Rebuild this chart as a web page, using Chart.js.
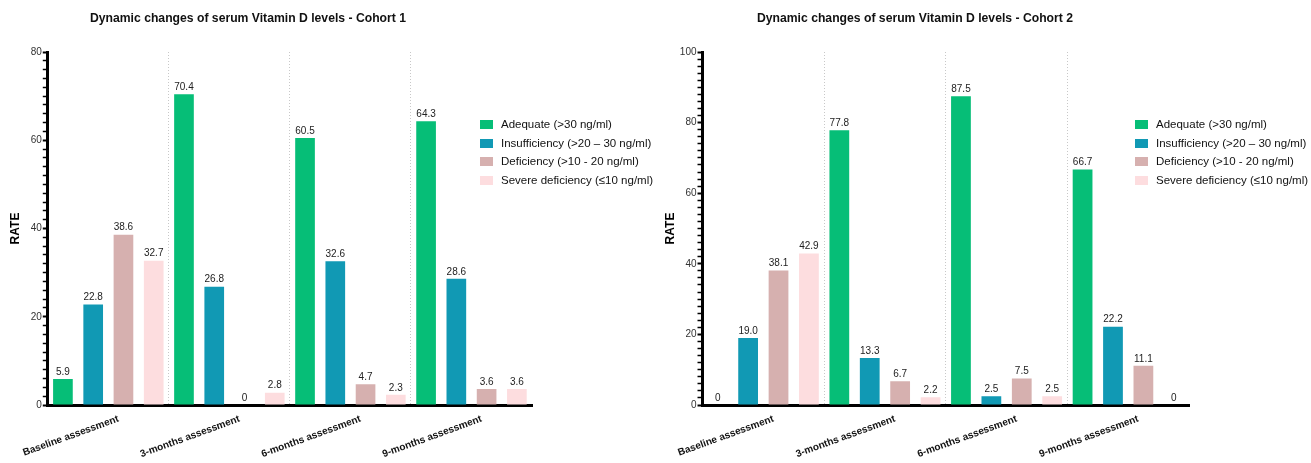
<!DOCTYPE html>
<html>
<head>
<meta charset="utf-8">
<script src="https://cdn.jsdelivr.net/npm/chart.js@4.4.1/dist/chart.umd.min.js"></script>
<style>
  html, body { margin: 0; padding: 0; background: #fff; }
  body { width: 1311px; height: 463px; position: relative; overflow: hidden;
         font-family: "Liberation Sans", Arial, sans-serif; }
  .panel { position: absolute; top: 0; height: 463px; }
  .panel canvas { position: absolute; left: 0; top: 0; }
  .title { position: absolute; top: 11px; font-weight: bold; font-size: 12.2px; color: #111;
           text-align: center; white-space: nowrap; }
  .legend { position: absolute; left: 480px; top: 115px; font-size: 11.5px; color: #111; }
  .legend div { height: 18.5px; line-height: 18.5px; white-space: nowrap; }
  .legend span { display: inline-block; width: 13px; height: 9px; margin-right: 8px; vertical-align: -1px; }
</style>
</head>
<body>
<div class="panel" id="panel1" style="left:0;width:655px">
  <canvas id="chart1" width="655" height="463"></canvas>
  <div class="title" style="left:0;width:496px">Dynamic changes of serum Vitamin D levels - Cohort 1</div>
  <div class="legend" id="legend1"></div>
</div>
<div class="panel" id="panel2" style="left:655px;width:656px">
  <canvas id="chart2" width="656" height="463"></canvas>
  <div class="title" style="left:0;width:520px">Dynamic changes of serum Vitamin D levels - Cohort 2</div>
  <div class="legend" id="legend2"></div>
</div>
<script>
// Categories and series
const assessments = ['Baseline assessment', '3-months assessment', '6-months assessment', '9-months assessment'];
const seriesNames = ['Adequate (>30 ng/ml)', 'Insufficiency (>20 – 30 ng/ml)', 'Deficiency (>10 - 20 ng/ml)', 'Severe deficiency (≤10 ng/ml)'];
const seriesColors = ['#06BE77', '#1199B4', '#D6B0AF', '#FDDDDF'];

// Cohort 1 values (%)
const cohort1Adequate = [5.9, 70.4, 60.5, 64.3];
const cohort1Insufficiency = [22.8, 26.8, 32.6, 28.6];
const cohort1Deficiency = [38.6, 0, 4.7, 3.6];
const cohort1Severe = [32.7, 2.8, 2.3, 3.6];

// Cohort 2 values (%)
const cohort2Adequate = [0, 77.8, 87.5, 66.7];
const cohort2Insufficiency = [19.0, 13.3, 2.5, 22.2];
const cohort2Deficiency = [38.1, 6.7, 7.5, 11.1];
const cohort2Severe = [42.9, 2.2, 2.5, 0];

const FONT = '"Liberation Sans", Arial, sans-serif';

// Draw value labels above each bar
const valueLabels = {
  id: 'valueLabels',
  afterDatasetsDraw(chart) {
    const ctx = chart.ctx;
    ctx.save();
    ctx.font = '10px ' + FONT;
    ctx.fillStyle = '#222';
    ctx.textAlign = 'center';
    ctx.textBaseline = 'bottom';
    chart.data.datasets.forEach((ds, i) => {
      chart.getDatasetMeta(i).data.forEach((bar, j) => {
        const v = ds.data[j];
        ctx.fillText(v === 0 ? '0' : v.toFixed(1), bar.x, bar.y - 2);
      });
    });
    ctx.restore();
  }
};

function buildLegend(id) {
  const el = document.getElementById(id);
  seriesNames.forEach((name, i) => {
    const row = document.createElement('div');
    const box = document.createElement('span');
    box.style.background = seriesColors[i];
    row.appendChild(box);
    row.appendChild(document.createTextNode(name));
    el.appendChild(row);
  });
}

function makeChart(canvasId, seriesData, yMax, padRight) {
  const ctx = document.getElementById(canvasId).getContext('2d');
  return new Chart(ctx, {
    type: 'bar',
    data: {
      labels: assessments,
      datasets: seriesData.map((values, i) => ({
        label: seriesNames[i],
        data: values,
        backgroundColor: seriesColors[i],
        categoryPercentage: 1.0,
        barPercentage: 0.65
      }))
    },
    plugins: [valueLabels],
    options: {
      responsive: false,
      animation: false,
      layout: { padding: { top: 52, right: padRight, left: 0, bottom: 0 } },
      plugins: {
        legend: { display: false },
        title: { display: false },
        tooltip: { enabled: false }
      },
      scales: {
        x: {
          grid: {
            drawTicks: false,
            // only the separators between groups, not the outer edges
            color: c => (c.type === 'tick' && c.index > 0) ? '#c8c8c8' : 'rgba(0,0,0,0)',
            lineWidth: 1
          },
          border: { color: '#000', width: 3, dash: [1, 2] },
          ticks: {
            font: { family: FONT, size: 10, weight: 'bold' },
            color: '#111',
            minRotation: 20,
            maxRotation: 20,
            padding: 8,
            labelOffset: 10
          },
          afterFit: s => { s.height = 58; }
        },
        y: {
          min: 0,
          max: yMax,
          grid: {
            drawOnChartArea: false,
            drawTicks: true,
            tickLength: 5,
            tickColor: '#000',
            tickWidth: c => (c.tick && c.tick.value % 20 === 0) ? 2 : 1.5
          },
          border: { color: '#000', width: 3 },
          ticks: {
            stepSize: 2,
            autoSkip: false,
            padding: 1,
            font: { family: FONT, size: 10 },
            color: '#333',
            callback: v => (v % 20 === 0 ? v : '')
          },
          title: {
            display: true,
            text: 'RATE',
            font: { family: FONT, size: 12, weight: 'bold' },
            color: '#000',
            padding: 3
          },
          afterFit: s => { s.width = 42; }
        }
      }
    }
  });
}

buildLegend('legend1');
buildLegend('legend2');
makeChart('chart1', [cohort1Adequate, cohort1Insufficiency, cohort1Deficiency, cohort1Severe], 80, 123);
makeChart('chart2', [cohort2Adequate, cohort2Insufficiency, cohort2Deficiency, cohort2Severe], 100, 122);
</script>
</body>
</html>
